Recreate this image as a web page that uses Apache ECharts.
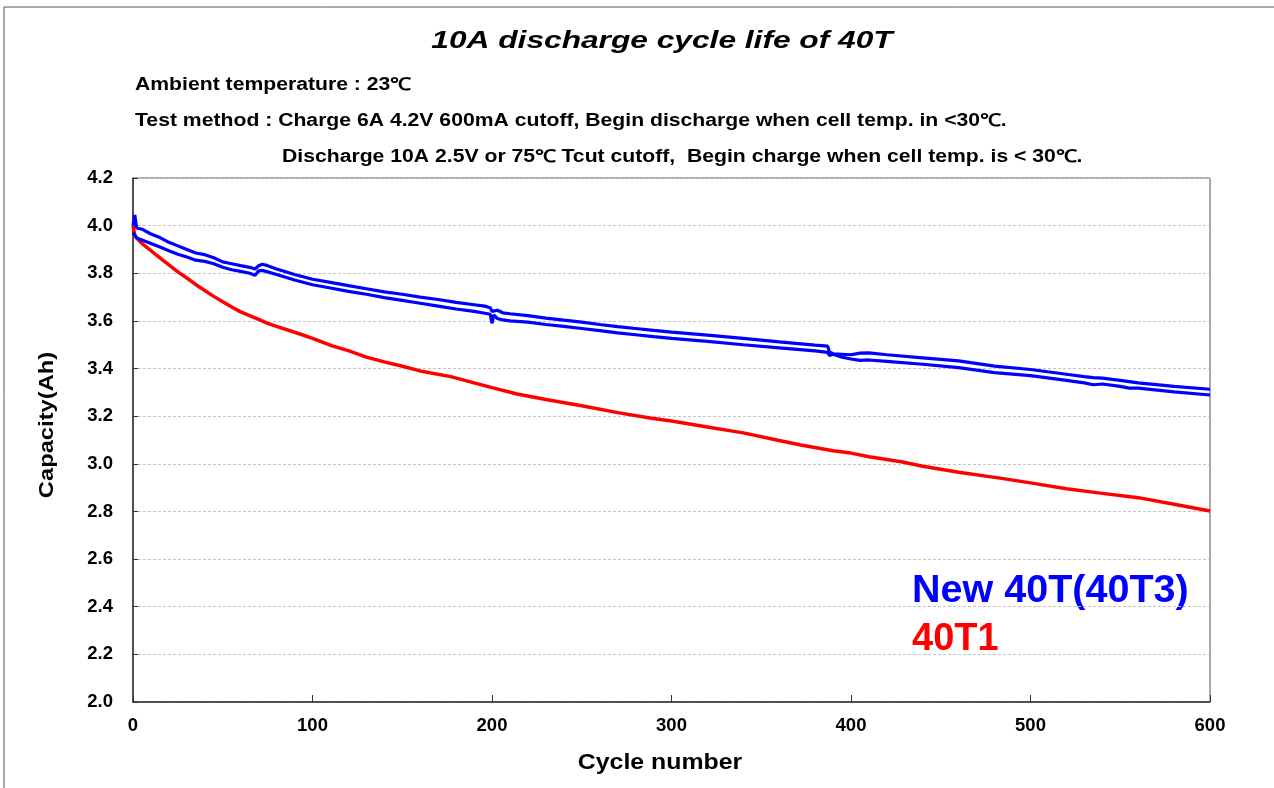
<!DOCTYPE html>
<html>
<head>
<meta charset="utf-8">
<script src="https://cdn.jsdelivr.net/npm/echarts@6/dist/echarts.min.js"></script>
<style>
    html, body { margin: 0; padding: 0; background: #fff; }
    #chart { width: 1274px; height: 788px; }
</style>
</head>
<body>
<div id="chart"></div>
<script>
// cycle numbers and capacity (Ah)
const cyclesA = [0,1,2,5,10,15,20,25,30,35,40,45,50,55,60,65,68,70,72,75,80,90,100,110,120,130,140,150,160,170,180,190,196,199,200,203,206,210,220,230,240,250,260,270,280,290,300,320,340,360,380,387,388,390,395,400,405,410,420,440,460,480,500,520,530,535,540,550,560,580,600];
const capA = [4.00,4.045,3.99,3.985,3.965,3.95,3.93,3.915,3.90,3.885,3.878,3.865,3.848,3.84,3.832,3.825,3.818,3.832,3.838,3.832,3.818,3.795,3.775,3.762,3.748,3.735,3.722,3.712,3.70,3.69,3.678,3.668,3.662,3.655,3.64,3.645,3.634,3.63,3.622,3.612,3.603,3.595,3.585,3.576,3.568,3.56,3.553,3.54,3.527,3.512,3.498,3.494,3.47,3.462,3.46,3.458,3.465,3.466,3.458,3.445,3.432,3.41,3.396,3.376,3.366,3.362,3.36,3.35,3.34,3.325,3.313];

const cyclesB = [0,1,2,5,10,15,20,25,30,35,40,45,50,55,60,65,68,70,72,75,80,90,100,110,120,130,140,150,160,170,180,190,196,199,200,201,203,206,210,220,230,240,250,260,270,280,290,300,320,340,360,380,387,388,390,395,400,405,410,420,440,460,480,500,520,530,535,540,550,555,560,580,600];
const capB = [3.97,3.96,3.948,3.94,3.925,3.91,3.895,3.88,3.868,3.855,3.85,3.84,3.825,3.815,3.808,3.80,3.792,3.81,3.812,3.806,3.795,3.772,3.752,3.738,3.724,3.712,3.698,3.686,3.674,3.662,3.65,3.64,3.632,3.628,3.59,3.625,3.61,3.604,3.60,3.595,3.585,3.577,3.568,3.559,3.55,3.542,3.534,3.527,3.514,3.50,3.487,3.474,3.468,3.455,3.46,3.448,3.44,3.434,3.436,3.43,3.418,3.404,3.383,3.37,3.35,3.34,3.332,3.335,3.325,3.318,3.318,3.302,3.289];

const cyclesC = [0,1,2,5,10,15,20,25,30,37,45,50,56,60,70,75,80,93,100,111,120,130,140,149,160,177,190,200,214,230,250,270,288,300,320,340,360,372,390,400,410,428,440,460,483,500,520,539,560,580,600];
const capC = [4.00,3.96,3.948,3.925,3.895,3.865,3.835,3.806,3.78,3.742,3.703,3.68,3.654,3.638,3.606,3.59,3.577,3.545,3.527,3.495,3.475,3.448,3.428,3.412,3.39,3.366,3.34,3.32,3.293,3.27,3.244,3.215,3.192,3.18,3.155,3.13,3.098,3.079,3.055,3.045,3.03,3.009,2.99,2.965,2.94,2.92,2.895,2.877,2.858,2.83,2.802];

const titleText = '10A discharge cycle life of 40T';
const noteLines = [
    'Ambient temperature : 23\u2103',
    'Test method : Charge 6A 4.2V 600mA cutoff, Begin discharge when cell temp. in <30\u2103.',
    'Discharge 10A 2.5V or 75\u2103 Tcut cutoff,  Begin charge when cell temp. is < 30\u2103.'
];
const xName = 'Cycle number';
const yName = 'Capacity(Ah)';
const labelNew = 'New 40T(40T3)';
const labelOld = '40T1';

function pairs(xs, ys) {
    return xs.map((x, i) => [x, ys[i]]);
}

const FONT = 'Arial, "Liberation Sans", sans-serif';
const chart = echarts.init(document.getElementById('chart'));

// the text in the original is a bit stretched sideways, hence scaleX
function label(x, y, text, font, color, sx, extra) {
    return Object.assign({
        type: 'text', x: x, y: y, scaleX: sx,
        style: { text: text, fill: color, font: font, align: 'left', verticalAlign: 'middle' }
    }, extra || {});
}
function centered(x, y, text, font, sx, extra) {
    return Object.assign({
        type: 'text', x: x, y: y, scaleX: sx,
        style: { text: text, fill: '#000', font: font, align: 'center', verticalAlign: 'middle' }
    }, extra || {});
}

chart.setOption({
    backgroundColor: '#fff',
    animation: false,
    grid: { left: 133, right: 64, top: 178, bottom: 86, show: true, borderColor: '#555', borderWidth: 1 },
    xAxis: {
        type: 'value', min: 0, max: 600, interval: 100,
        axisLine: { lineStyle: { color: '#333', width: 1.5 } },
        axisTick: { inside: true, length: 7, lineStyle: { color: '#333' } },
        axisLabel: { fontFamily: FONT, fontWeight: 'bold', fontSize: 18.5, color: '#000', margin: 14 },
        splitLine: { show: false }
    },
    yAxis: {
        type: 'value', min: 2.0, max: 4.2, interval: 0.2,
        axisLine: { show: true, lineStyle: { color: '#333', width: 1.5 } },
        axisTick: { show: true, inside: true, length: 5, lineStyle: { color: '#333' } },
        axisLabel: { fontFamily: FONT, fontWeight: 'bold', fontSize: 18.5, color: '#000', margin: 20,
            formatter: v => v.toFixed(1) },
        splitLine: { lineStyle: { color: '#c4c4c4', type: [3, 2], width: 1 } }
    },
    series: [
        { type: 'line', data: pairs(cyclesC, capC), showSymbol: false, lineStyle: { color: '#ff0000', width: 3.5 }, z: 3 },
        { type: 'line', data: pairs(cyclesA, capA), showSymbol: false, lineStyle: { color: '#0000ff', width: 3.2 }, z: 4 },
        { type: 'line', data: pairs(cyclesB, capB), showSymbol: false, lineStyle: { color: '#0000ff', width: 3.2 }, z: 4 }
    ],
    graphic: [
        { type: 'line', shape: { x1: 4, y1: 7, x2: 1274, y2: 7 }, style: { stroke: '#555', lineWidth: 1 } },
        { type: 'line', shape: { x1: 4, y1: 7, x2: 4, y2: 788 }, style: { stroke: '#555', lineWidth: 1 } },
        centered(662, 41, titleText, 'italic bold 24px ' + FONT, 1.32),
        label(135, 85, noteLines[0], 'bold 17.5px ' + FONT, '#000', 1.21),
        label(135, 121, noteLines[1], 'bold 17.5px ' + FONT, '#000', 1.21),
        label(282, 157, noteLines[2], 'bold 17.5px ' + FONT, '#000', 1.21),
        centered(660, 763, xName, 'bold 22px ' + FONT, 1.13),
        centered(47, 425, yName, 'bold 21px ' + FONT, 1.13, { rotation: Math.PI / 2 }),
        label(912, 592, labelNew, 'bold 38px ' + FONT, '#0000ff', 1.04),
        label(912, 640, labelOld, 'bold 38px ' + FONT, '#ff0000', 1.0)
    ]
});
</script>
</body>
</html>
